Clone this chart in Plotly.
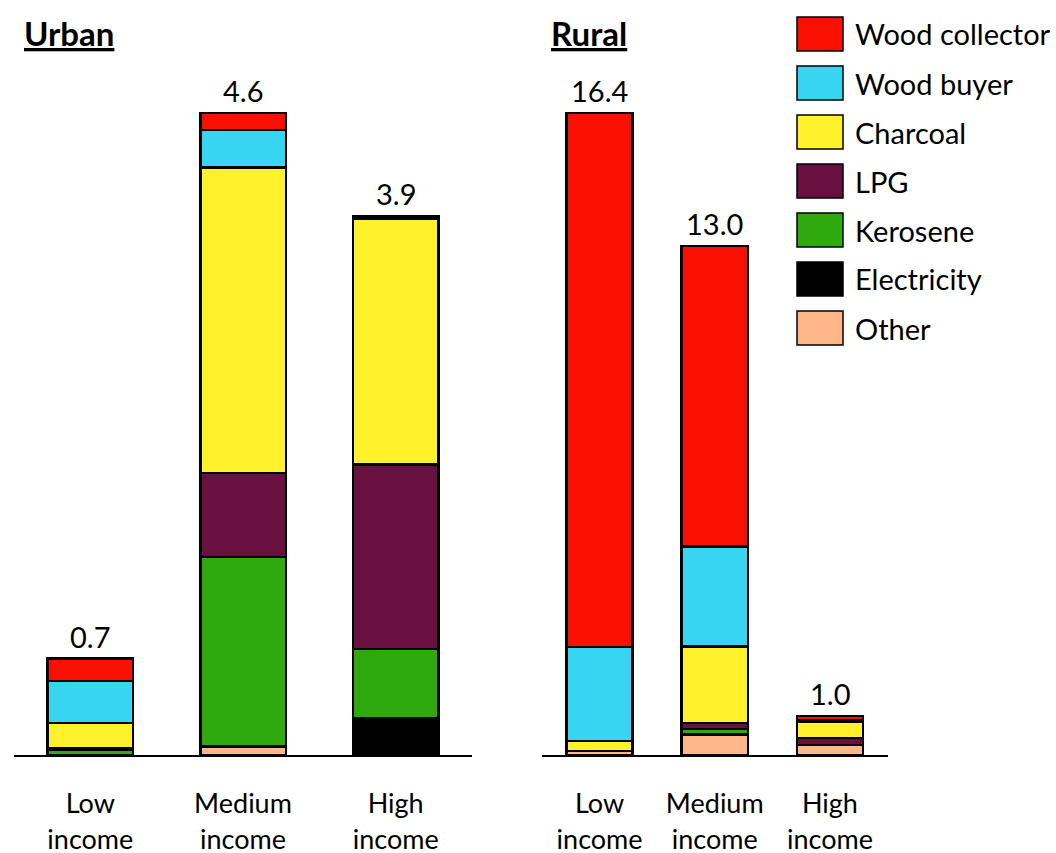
import plotly.graph_objects as go

# Household fuel use by income group, urban vs rural
categories = ["Low<br>income", "Medium<br>income", "High<br>income"]
fuels = ["Wood collector", "Wood buyer", "Charcoal", "LPG", "Kerosene", "Electricity", "Other"]
fuel_colors = ["#FA1000", "#38D5F2", "#FFF22C", "#68103F", "#2EAA0E", "#000000", "#FFB688"]

# Urban segments (Low, Medium, High income)
urban_wood_collector = [0.16, 0.12, 0.01]
urban_wood_buyer = [0.30, 0.27, 0.01]
urban_charcoal = [0.18, 2.19, 1.76]
urban_lpg = [0.01, 0.60, 1.32]
urban_kerosene = [0.04, 1.36, 0.50]
urban_electricity = [None, None, 0.25]
urban_other = [None, 0.06, 0.01]

# Rural segments (Low, Medium, High income)
rural_wood_collector = [13.64, 7.68, 0.12]
rural_wood_buyer = [2.40, 2.55, 0.02]
rural_charcoal = [0.26, 1.95, 0.42]
rural_lpg = [None, 0.15, 0.18]
rural_kerosene = [None, 0.15, None]
rural_electricity = [None, None, None]
rural_other = [0.10, 0.52, 0.26]

urban_series = [urban_wood_collector, urban_wood_buyer, urban_charcoal, urban_lpg,
                urban_kerosene, urban_electricity, urban_other]
rural_series = [rural_wood_collector, rural_wood_buyer, rural_charcoal, rural_lpg,
                rural_kerosene, rural_electricity, rural_other]

W, H = 1056, 853
BASE = 755          # pixel row of the baseline
TALLEST = 642       # pixel height of the tallest bar in each panel
FONT = "Lato"
FS = 29


def totals(series):
    return [sum(v[i] or 0 for v in series) for i in range(len(categories))]


def px_x(x):
    return x / W


def px_y(y):
    return (BASE - y) / BASE


fig = go.Figure()

panels = [
    (urban_series, "x", "y", 0.56),
    (rural_series, "x2", "y2", 0.575),
]

for series, xa, ya, bw in panels:
    # stack from the bottom: Other first, Wood collector last
    for name, color, vals in reversed(list(zip(fuels, fuel_colors, series))):
        fig.add_trace(go.Bar(
            x=categories, y=vals, name=name, xaxis=xa, yaxis=ya,
            width=bw, showlegend=False,
            marker=dict(color=color, line=dict(color="black", width=2.5)),
            hoverinfo="skip",
        ))
    for cat, tot in zip(categories, totals(series)):
        fig.add_annotation(
            x=cat, y=tot, xref=xa, yref=ya, text=f"{tot:.1f}",
            showarrow=False, yanchor="bottom", yshift=3,
            font=dict(family=FONT, size=FS, color="black"),
        )

urban_top = max(totals(urban_series)) * BASE / TALLEST
rural_top = max(totals(rural_series)) * BASE / TALLEST

xaxis_common = dict(
    showline=True, linecolor="black", linewidth=2, ticks="", showgrid=False,
    zeroline=False, tickfont=dict(family=FONT, size=27, color="black"),
    ticklabelstandoff=24, fixedrange=True, automargin=False,
)
yaxis_common = dict(visible=False, showgrid=False, zeroline=False,
                    fixedrange=True, automargin=False)

fig.update_layout(
    width=W, height=H,
    margin=dict(l=0, r=0, t=0, b=H - BASE, autoexpand=False),
    paper_bgcolor="white", plot_bgcolor="white",
    barmode="stack",
    xaxis=dict(domain=[px_x(14), px_x(472)], anchor="y", **xaxis_common),
    xaxis2=dict(domain=[px_x(542), px_x(887.5)], anchor="y2", **xaxis_common),
    yaxis=dict(domain=[0, 1], range=[0, urban_top], anchor="x", **yaxis_common),
    yaxis2=dict(domain=[0, 1], range=[0, rural_top], anchor="x2", **yaxis_common),
    font=dict(family=FONT, size=FS, color="black"),
)

# panel titles
for label, xpix in [("Urban", 22), ("Rural", 549)]:
    fig.add_annotation(
        x=px_x(xpix), y=px_y(33), xref="paper", yref="paper",
        text=f"<b><u>{label}</u></b>", showarrow=False,
        xanchor="left", yanchor="middle",
        font=dict(family=FONT, size=33, color="black"),
    )

# legend: large swatches with labels
for i, (name, color) in enumerate(zip(fuels, fuel_colors)):
    top = 17 + 49 * i
    fig.add_shape(
        type="rect", xref="paper", yref="paper",
        x0=px_x(797), x1=px_x(843), y0=px_y(top + 34), y1=px_y(top),
        fillcolor=color, line=dict(color="black", width=1.5),
    )
    fig.add_annotation(
        x=px_x(853), y=px_y(top + 17), xref="paper", yref="paper",
        text=name, showarrow=False, xanchor="left", yanchor="middle",
        font=dict(family=FONT, size=FS, color="black"),
    )

fig.write_html("out.html")
